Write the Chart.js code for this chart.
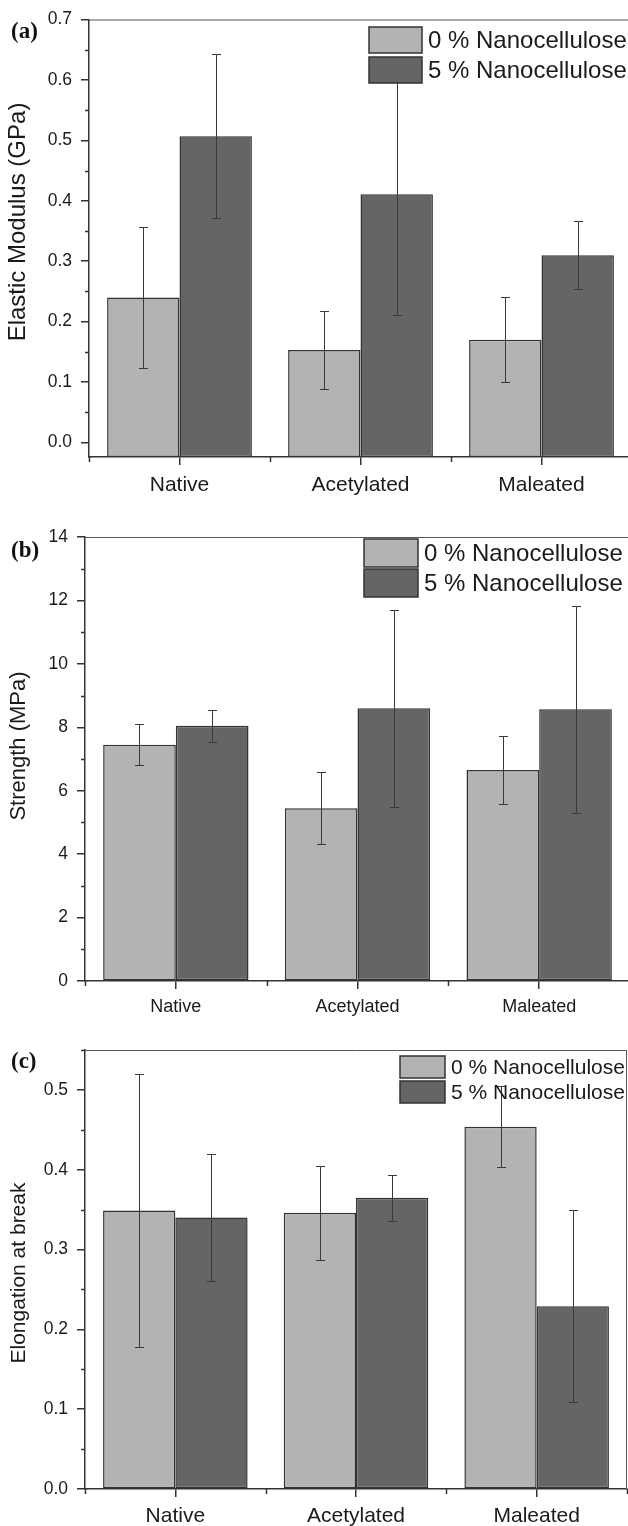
<!DOCTYPE html>
<html>
<head>
<meta charset="utf-8">
<script src="https://cdn.jsdelivr.net/npm/chart.js@4.4.0/dist/chart.umd.min.js"></script>
<style>
  html, body { margin: 0; padding: 0; background: #fff; }
  #page { position: relative; width: 628px; height: 1526px; overflow: hidden; }
  canvas { position: absolute; left: 0; }
</style>
</head>
<body>
<div id="page">
  <canvas id="chartA" width="640" height="500" style="top:0px"></canvas>
  <canvas id="chartB" width="640" height="520" style="top:500px"></canvas>
  <canvas id="chartC" width="640" height="506" style="top:1020px"></canvas>
</div>
<script>
// data
var categories = ['Native', 'Acetylated', 'Maleated'];
var seriesLabels = ['0 % Nanocellulose', '5 % Nanocellulose'];

// (a) elastic modulus, GPa
var modulus0 = [0.240, 0.153, 0.170];
var modulus0Err = [0.117, 0.064, 0.070];
var modulus5 = [0.507, 0.411, 0.310];
var modulus5Err = [0.136, 0.200, 0.056];
var modulusTicks = [0.0, 0.1, 0.2, 0.3, 0.4, 0.5, 0.6, 0.7];

// (b) strength, MPa
var strength0 = [7.45, 5.45, 6.65];
var strength0Err = [0.64, 1.13, 1.06];
var strength5 = [8.05, 8.60, 8.57];
var strength5Err = [0.50, 3.10, 3.26];
var strengthTicks = [0, 2, 4, 6, 8, 10, 12, 14];

// (c) elongation at break
var elong0 = [0.349, 0.346, 0.454];
var elong0Err = [0.171, 0.059, 0.051];
var elong5 = [0.340, 0.365, 0.229];
var elong5Err = [0.080, 0.029, 0.120];
var elongTicks = [0.0, 0.1, 0.2, 0.3, 0.4, 0.5];

var LIGHT = '#b3b3b3';
var DARK = '#656565';
var EDGE = '#333333';
var SANS = "'Liberation Sans', Arial, sans-serif";

// error bars on top of the bars
var errorBars = {
  id: 'errorBars',
  afterDatasetsDraw: function(chart) {
    var ctx = chart.ctx;
    var y = chart.scales.y;
    ctx.save();
    ctx.strokeStyle = '#3a3a3a';
    ctx.lineWidth = 1;
    chart.data.datasets.forEach(function(ds, i) {
      chart.getDatasetMeta(i).data.forEach(function(bar, j) {
        var x = Math.round(bar.x) + 0.5;
        var top = Math.round(y.getPixelForValue(ds.data[j] + ds.errors[j])) + 0.5;
        var bot = Math.round(y.getPixelForValue(ds.data[j] - ds.errors[j])) + 0.5;
        ctx.beginPath();
        ctx.moveTo(x, top); ctx.lineTo(x, bot);
        ctx.moveTo(x - 4.5, top); ctx.lineTo(x + 4.5, top);
        ctx.moveTo(x - 4.5, bot); ctx.lineTo(x + 4.5, bot);
        ctx.stroke();
      });
    });
    ctx.restore();
  }
};

// box frame, minor ticks, axis title, legend inside the plot, panel letter
var frame = {
  id: 'frame',
  afterDraw: function(chart, args, opts) {
    var ctx = chart.ctx;
    var a = chart.chartArea;
    var x = chart.scales.x;
    var y = chart.scales.y;
    ctx.save();

    ctx.strokeStyle = '#555';
    ctx.lineWidth = 1;
    ctx.beginPath();
    ctx.moveTo(a.left, a.top + 0.5); ctx.lineTo(a.right - 0.5, a.top + 0.5);
    ctx.lineTo(a.right - 0.5, a.bottom);
    ctx.stroke();

    // minor ticks
    ctx.strokeStyle = EDGE;
    ctx.lineWidth = 1.5;
    ctx.beginPath();
    var t = opts.ticks;
    for (var i = 0; i < t.length; i++) {
      var mid = t[i] + (t[1] - t[0]) / 2;
      if (mid > y.max + 1e-9) continue;
      var py = Math.round(y.getPixelForValue(mid)) + 0.5;
      ctx.moveTo(a.left, py); ctx.lineTo(a.left - 4, py);
    }
    for (var k = 0; k <= categories.length; k++) {
      var px = Math.round(x.getPixelForValue(k - 0.5)) + 0.5;
      ctx.moveTo(px, a.bottom); ctx.lineTo(px, a.bottom + 5);
    }
    ctx.stroke();

    // y axis title
    ctx.fillStyle = '#1a1a1a';
    ctx.font = opts.titleFont + 'px ' + SANS;
    ctx.textAlign = 'center';
    ctx.textBaseline = 'middle';
    ctx.translate(opts.titleX, opts.titleY);
    ctx.rotate(-Math.PI / 2);
    ctx.fillText(opts.title, 0, 0);
    ctx.setTransform(1, 0, 0, 1, 0, 0);

    // legend
    var lg = opts.legend;
    ctx.font = lg.size + 'px ' + SANS;
    ctx.textAlign = 'left';
    chart.data.datasets.forEach(function(ds, i) {
      var by = lg.y + i * (lg.h + lg.gap);
      ctx.fillStyle = ds.backgroundColor;
      ctx.fillRect(lg.x, by, lg.w, lg.h);
      ctx.strokeStyle = EDGE;
      ctx.lineWidth = 1.5;
      ctx.strokeRect(lg.x, by, lg.w, lg.h);
      ctx.fillStyle = '#1a1a1a';
      ctx.fillText(ds.label, lg.x + lg.w + 6, by + lg.h / 2 + 1);
    });

    // panel letter
    ctx.font = "bold 23px 'Liberation Serif', 'Times New Roman', serif";
    ctx.fillStyle = '#111';
    ctx.fillText(opts.letter, 11, opts.letterY);
    ctx.restore();
  }
};

function makeDatasets(v0, e0, v5, e5, base) {
  return [
    { label: seriesLabels[0], data: v0, errors: e0, backgroundColor: LIGHT, borderColor: EDGE,
      borderWidth: 1.5, borderSkipped: false, base: base },
    { label: seriesLabels[1], data: v5, errors: e5, backgroundColor: DARK, borderColor: EDGE,
      borderWidth: 1.5, borderSkipped: false, base: base }
  ];
}

function makeChart(id, c) {
  return new Chart(document.getElementById(id), {
    type: 'bar',
    data: { labels: categories, datasets: c.datasets },
    plugins: [errorBars, frame],
    options: {
      responsive: false,
      animation: false,
      layout: { padding: { top: c.top, right: c.right, left: 0, bottom: 0 } },
      datasets: { bar: { categoryPercentage: 0.8, barPercentage: 1.0 } },
      plugins: {
        legend: { display: false },
        tooltip: { enabled: false },
        frame: {
          ticks: c.ticks, legend: c.legend, letter: c.letter, letterY: c.letterY,
          title: c.title, titleFont: c.titleFont, titleX: c.titleX, titleY: c.titleY
        }
      },
      scales: {
        x: {
          afterFit: function(s) { s.height = c.xHeight; },
          grid: { display: true, drawOnChartArea: false, offset: false, tickLength: 8, color: EDGE, lineWidth: 1.5 },
          border: { display: true, color: EDGE, width: 1.5 },
          ticks: { color: '#1a1a1a', padding: c.xPad, font: { family: SANS, size: c.xFont } }
        },
        y: {
          min: c.min,
          max: c.max,
          afterFit: function(s) { s.width = c.yWidth; },
          afterBuildTicks: function(s) { s.ticks = c.ticks.map(function(v) { return { value: v }; }); },
          grid: { display: true, drawOnChartArea: false, tickLength: 8, color: EDGE, lineWidth: 1.5 },
          border: { display: true, color: EDGE, width: 1.5 },
          ticks: {
            color: '#1a1a1a', padding: 9, font: { family: SANS, size: 17.5 },
            callback: function(v) { return v.toFixed(c.decimals); }
          }
        }
      }
    }
  });
}

makeChart('chartA', {
  datasets: makeDatasets(modulus0, modulus0Err, modulus5, modulus5Err, -0.024),
  min: -0.024, max: 0.7, ticks: modulusTicks, decimals: 1,
  title: 'Elastic Modulus (GPa)', titleFont: 24, titleX: 18, titleY: 222,
  top: 19, right: 8, yWidth: 89, xHeight: 43, xPad: 8, xFont: 21,
  legend: { x: 369, y: 27, w: 53, h: 26, gap: 4, size: 24 },
  letter: '(a)', letterY: 32
});

makeChart('chartB', {
  datasets: makeDatasets(strength0, strength0Err, strength5, strength5Err, 0),
  min: 0, max: 14, ticks: strengthTicks, decimals: 0,
  title: 'Strength (MPa)', titleFont: 22, titleX: 19, titleY: 246,
  top: 37, right: 10, yWidth: 85, xHeight: 39, xPad: 7, xFont: 18,
  legend: { x: 364, y: 39, w: 54, h: 28, gap: 2, size: 24 },
  letter: '(b)', letterY: 51
});

makeChart('chartC', {
  datasets: makeDatasets(elong0, elong0Err, elong5, elong5Err, 0),
  min: 0, max: 0.55, ticks: elongTicks, decimals: 1,
  title: 'Elongation at break', titleFont: 21, titleX: 19, titleY: 253,
  top: 30, right: 13, yWidth: 85, xHeight: 37, xPad: 7, xFont: 21,
  legend: { x: 400, y: 36, w: 45, h: 22, gap: 3, size: 21 },
  letter: '(c)', letterY: 42
});
</script>
</body>
</html>
